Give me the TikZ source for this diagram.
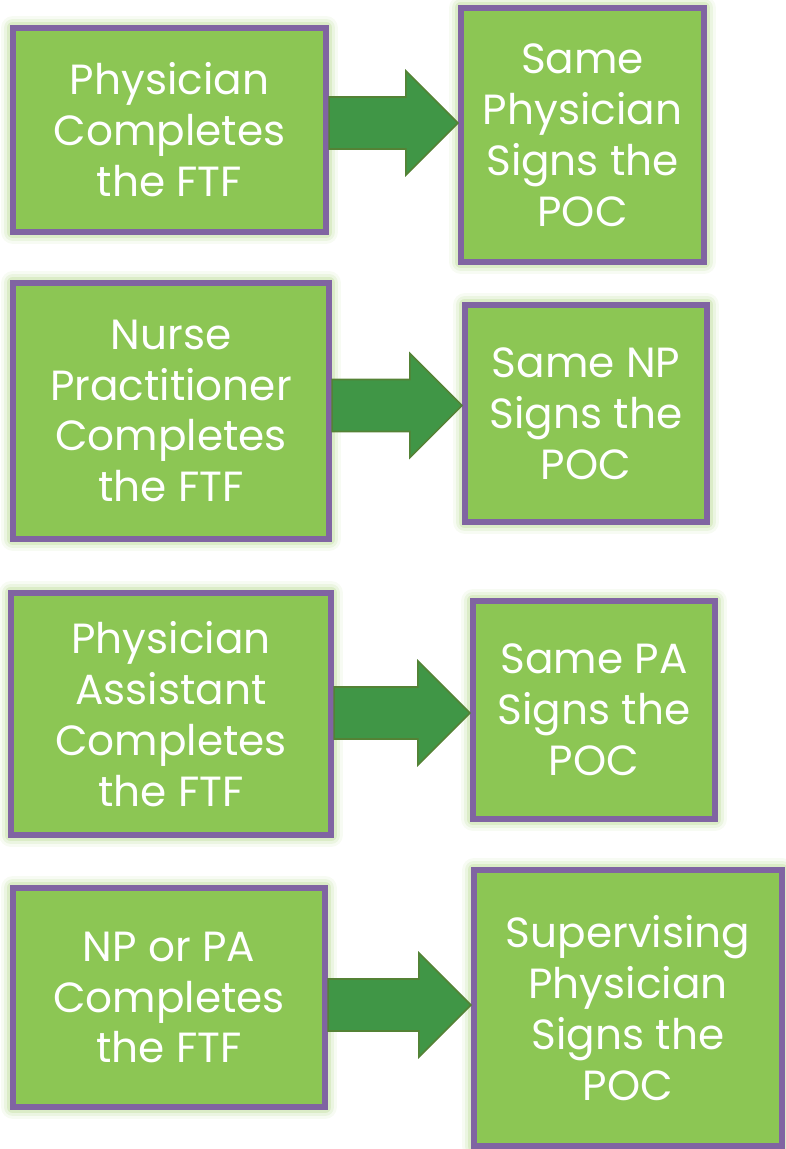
\documentclass[tikz,border=0pt]{standalone}
\usepackage{fontspec}
\setmainfont{Poppins}
\usepackage{tikz}
\usetikzlibrary{calc,positioning}
\usepackage{xcolor}
\definecolor{boxgreen}{RGB}{140,198,84}
\definecolor{boxpurple}{RGB}{128,100,162}
\definecolor{glowgreen}{RGB}{180,216,140}
\definecolor{arrowgreen}{RGB}{64,150,70}
\definecolor{arrowedge}{RGB}{84,130,53}
\tikzstyle{stepbox} = [rectangle, draw=boxpurple, fill=boxgreen, line width=4.3pt, text=white, align=center,
  font=\fontsize{30}{36.2}\selectfont, inner sep=0pt,
  preaction={draw=glowgreen, line width=17pt, line join=round, opacity=0.10},
  preaction={draw=glowgreen, line width=13pt, line join=round, opacity=0.18},
  preaction={draw=glowgreen, line width=9pt, line join=round, opacity=0.30}]
\tikzstyle{bigarrow} = [fill=arrowgreen, draw=arrowedge, line width=1.1pt, line join=miter]
\newcommand{\blockarrow}[3]{%
  \draw[bigarrow] let \p1=(#1.east), \p2=(#2.west) in
    (\x1,#3-26) -- ({\x2-1.3cm},#3-26) -- ({\x2-1.3cm},#3-52) -- (\x2,#3)
    -- ({\x2-1.3cm},#3+52) -- ({\x2-1.3cm},#3+26) -- (\x1,#3+26) -- cycle;}

\begin{document}
\begin{tikzpicture}[x=0.025cm, y=-0.025cm]
\useasboundingbox (0,0) rectangle (785,1149);

% Row 1
\node (ftf1) [stepbox, minimum width=7.825cm, minimum height=5.1cm] at (169.5,130) {Physician\\Completes\\the FTF};
\node (poc1) [stepbox, minimum width=6.075cm, minimum height=6.35cm] at (582.5,135) {Same\\Physician\\Signs the\\POC};

% Row 2
\node (ftf2) [stepbox, minimum width=7.9cm, minimum height=6.4cm] at (171,411) {Nurse\\Practitioner\\Completes\\the FTF};
\node (poc2) [stepbox, minimum width=6.05cm, minimum height=5.425cm] at (586,413.5) {Same NP\\Signs the\\POC};

% Row 3
\node (ftf3) [stepbox, minimum width=8.0cm, minimum height=6.05cm] at (171,714) {Physician\\Assistant\\Completes\\the FTF};
\node (poc3) [stepbox, minimum width=6.05cm, minimum height=5.45cm] at (594,710) {Same PA\\Signs the\\POC};

% Row 4
\node (ftf4) [stepbox, minimum width=7.8cm, minimum height=5.475cm] at (169,997.5) {NP or PA\\Completes\\the FTF};
\node (poc4) [stepbox, minimum width=7.7cm, minimum height=6.9cm] at (628,1008) {Supervising\\Physician\\Signs the\\POC};

% Arrows
\blockarrow{ftf1}{poc1}{123}
\blockarrow{ftf2}{poc2}{405.5}
\blockarrow{ftf3}{poc3}{713}
\blockarrow{ftf4}{poc4}{1005}
\end{tikzpicture}
\end{document}
